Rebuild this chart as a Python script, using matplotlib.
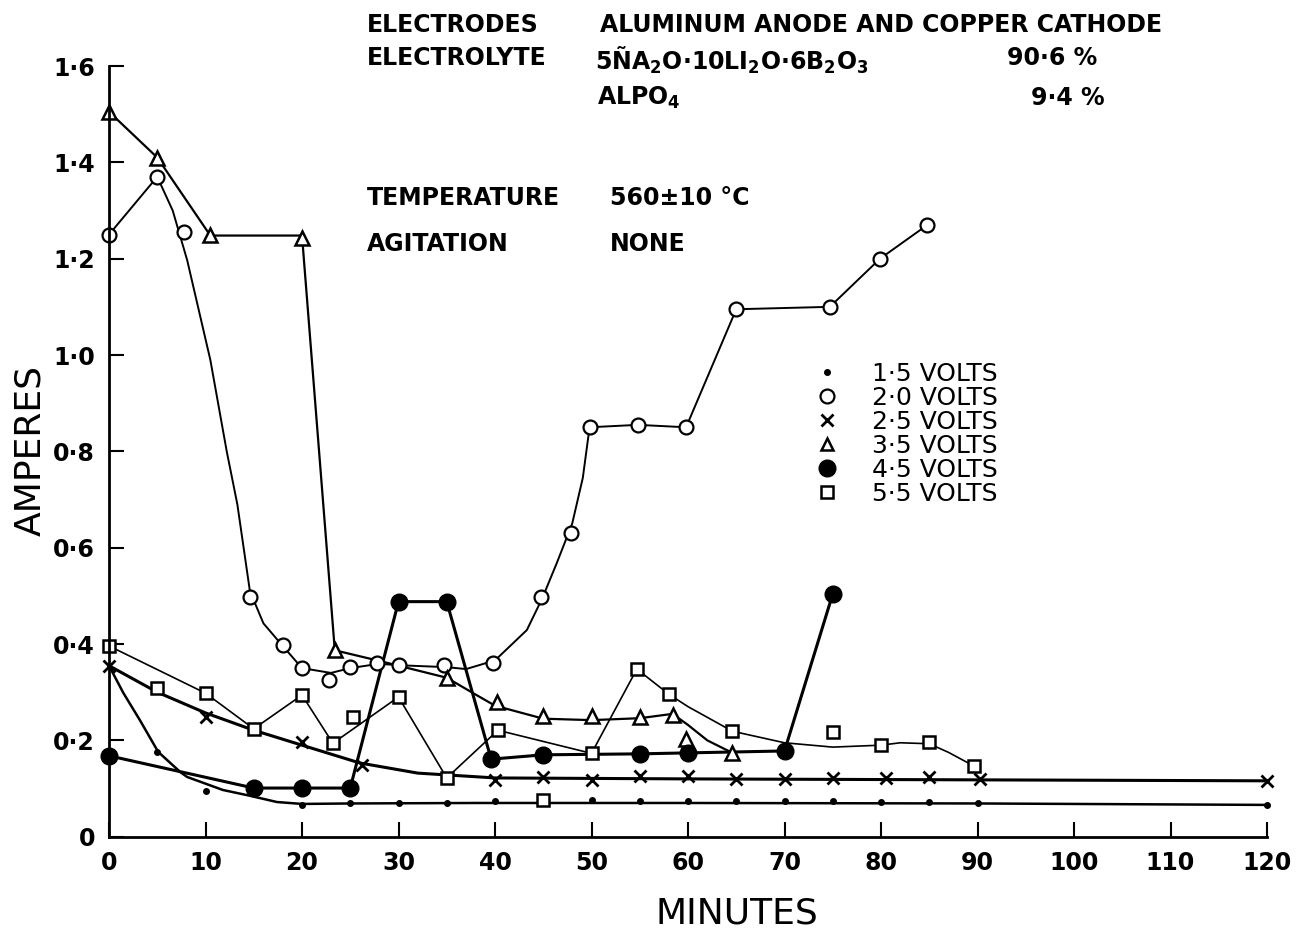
import matplotlib
matplotlib.use("Agg")
import matplotlib.pyplot as plt
from matplotlib.lines import Line2D

# ---- data (minutes, amperes) ----
# 1.5 volts
v15_t = [5, 10, 20, 25, 30, 35, 40, 45, 50, 55, 60, 65, 70, 75, 80, 85, 90, 120]
v15_a = [0.176, 0.095, 0.066, 0.070, 0.070, 0.070, 0.074, 0.074, 0.076, 0.075,
         0.075, 0.075, 0.075, 0.074, 0.073, 0.073, 0.071, 0.066]
c15_t = [0, 1.5, 3.2, 5.1, 7.4, 8.1, 11.8, 14.6, 17.4, 20, 25, 38, 60, 90, 120]
c15_a = [0.355, 0.298, 0.242, 0.176, 0.134, 0.124, 0.097, 0.085, 0.072, 0.068,
         0.069, 0.070, 0.070, 0.069, 0.066]

# 2.0 volts
v20_t = [0, 5, 7.8, 14.6, 18, 20, 22.8, 25, 27.8, 30, 34.7, 39.8, 44.8, 47.9,
         49.8, 54.8, 59.8, 65, 74.7, 79.9, 84.8]
v20_a = [1.25, 1.37, 1.255, 0.497, 0.398, 0.35, 0.325, 0.352, 0.36, 0.356,
         0.356, 0.36, 0.497, 0.63, 0.85, 0.855, 0.85, 1.095, 1.10, 1.20, 1.27]
c20_t = [0, 5, 6.6, 8.1, 10.5, 12.2, 13.3, 14.6, 16, 18, 20, 23, 25, 28, 30, 35,
         37, 40, 43.3, 44.9, 46.4, 48, 49.1, 49.8, 54.8, 59.8, 65, 74.7, 79.9, 84.8]
c20_a = [1.25, 1.37, 1.30, 1.197, 0.99, 0.80, 0.69, 0.51, 0.443, 0.396, 0.35,
         0.34, 0.35, 0.359, 0.356, 0.352, 0.348, 0.366, 0.429, 0.495, 0.568,
         0.65, 0.745, 0.85, 0.855, 0.85, 1.095, 1.10, 1.20, 1.27]

# 2.5 volts
v25_t = [0, 10, 15, 20, 26.2, 40, 45, 50, 55, 60, 65, 70, 75, 80.5, 85, 90.3, 120]
v25_a = [0.355, 0.249, 0.223, 0.196, 0.149, 0.118, 0.124, 0.118, 0.126, 0.126,
         0.12, 0.12, 0.122, 0.122, 0.124, 0.12, 0.116]
c25_t = [0, 5, 10, 15, 20, 26, 32, 40, 60, 90, 120]
c25_a = [0.355, 0.30, 0.257, 0.221, 0.19, 0.153, 0.132, 0.122, 0.12, 0.118, 0.116]

# 3.5 volts
v35_t = [0, 5, 10.5, 20, 23.4, 35, 40.2, 45, 50, 55, 58.4, 59.8, 64.6]
v35_a = [1.505, 1.41, 1.25, 1.243, 0.387, 0.33, 0.28, 0.25, 0.25, 0.249, 0.252,
         0.203, 0.174]
c35_t = [0, 5, 10.5, 20, 23.4, 28, 35, 38, 40, 45, 50, 55, 58.4, 60, 62, 64.6]
c35_a = [1.505, 1.41, 1.248, 1.248, 0.387, 0.365, 0.33, 0.295, 0.272, 0.245,
         0.242, 0.246, 0.255, 0.232, 0.20, 0.174]

# 4.5 volts
v45_t = [0, 15, 20, 25, 30, 35, 39.6, 45, 55, 60, 70, 75]
v45_a = [0.168, 0.101, 0.101, 0.101, 0.488, 0.488, 0.161, 0.17, 0.172, 0.174,
         0.178, 0.504]

# 5.5 volts
v55_t = [0, 5, 10, 15, 20, 23.2, 25.3, 30, 35, 40.3, 45, 50, 54.7, 58, 64.6, 75,
         80, 85, 89.6]
v55_a = [0.396, 0.309, 0.298, 0.224, 0.294, 0.194, 0.249, 0.29, 0.122, 0.221,
         0.076, 0.173, 0.348, 0.296, 0.219, 0.217, 0.19, 0.197, 0.147]
c55_t = [0, 10, 15, 20, 23.2, 30, 35, 40.3, 50, 54.7, 58, 60, 64.6, 70, 75, 80,
         82, 85, 87, 89.6]
c55_a = [0.396, 0.298, 0.224, 0.294, 0.194, 0.29, 0.122, 0.221, 0.173, 0.348,
         0.296, 0.27, 0.219, 0.195, 0.186, 0.19, 0.195, 0.193, 0.175, 0.147]

x_ticks = list(range(0, 121, 10))
y_ticks = [0, 0.2, 0.4, 0.6, 0.8, 1.0, 1.2, 1.4, 1.6]
y_labels = ["0", "0\u00b72", "0\u00b74", "0\u00b76", "0\u00b78", "1\u00b70",
            "1\u00b72", "1\u00b74", "1\u00b76"]

legend_labels = ["1\u00b75 VOLTS", "2\u00b70 VOLTS", "2\u00b75 VOLTS",
                 "3\u00b75 VOLTS", "4\u00b75 VOLTS", "5\u00b75 VOLTS"]

plt.rcParams['font.family'] = ['DejaVu Sans']
W, H = 1300, 933
fig = plt.figure(figsize=(13, 9.33), dpi=100)
ax = fig.add_axes([109 / W, 1 - 836.7 / H, 1158 / W, (836.7 - 66) / H])

k = 'black'
# curves
ax.plot(c15_t, c15_a, '-', color=k, lw=1.8, clip_on=False)
ax.plot(c20_t, c20_a, '-', color=k, lw=1.4, clip_on=False)
ax.plot(c25_t, c25_a, '-', color=k, lw=2.2, clip_on=False)
ax.plot(c35_t, c35_a, '-', color=k, lw=1.6, clip_on=False)
ax.plot(v45_t, v45_a, '-', color=k, lw=2.2, clip_on=False)
ax.plot(c55_t, c55_a, '-', color=k, lw=1.2, clip_on=False)

# points
ax.plot(v15_t, v15_a, 'o', color=k, ms=4, ls='none', clip_on=False)
ax.plot(v20_t, v20_a, 'o', mfc='white', mec=k, mew=1.6, ms=10, ls='none', clip_on=False)
ax.plot(v25_t, v25_a, 'x', color=k, mew=2, ms=9, ls='none', clip_on=False)
ax.plot(v35_t, v35_a, '^', mfc='white', mec=k, mew=1.8, ms=10, ls='none', clip_on=False)
ax.plot(v45_t, v45_a, 'o', color=k, ms=12, ls='none', clip_on=False)
ax.plot(v55_t, v55_a, 's', mfc='white', mec=k, mew=1.8, ms=9, ls='none', clip_on=False)

ax.set_xlim(0, 120)
ax.set_ylim(0, 1.6)
for s in ['top', 'right']:
    ax.spines[s].set_visible(False)
for s in ['left', 'bottom']:
    ax.spines[s].set_linewidth(2)
ax.set_xticks(x_ticks)
ax.set_yticks(y_ticks)
ax.set_yticklabels(y_labels)
ax.tick_params(direction='in', length=11, width=1.5, labelsize=17, pad=10)
for lab in ax.get_xticklabels() + ax.get_yticklabels():
    lab.set_fontweight('bold')

fig.text(30 / W, 1 - 450 / H, "AMPERES", rotation=90, fontsize=26,
         ha='center', va='center')
fig.text(737 / W, 1 - 914 / H, "MINUTES", fontsize=26, ha='center', va='center')

# legend
handles = [
    Line2D([], [], marker='o', color=k, ms=4, ls='none'),
    Line2D([], [], marker='o', mfc='white', mec=k, mew=1.6, ms=10, ls='none'),
    Line2D([], [], marker='x', color=k, mew=2, ms=9, ls='none'),
    Line2D([], [], marker='^', mfc='white', mec=k, mew=1.8, ms=9, ls='none'),
    Line2D([], [], marker='o', color=k, ms=12, ls='none'),
    Line2D([], [], marker='s', mfc='white', mec=k, mew=1.8, ms=8, ls='none'),
]
fig.legend(handles, legend_labels, loc='upper left',
           bbox_to_anchor=(812 / W, 1 - 362 / H), frameon=False, fontsize=18,
           labelspacing=0.0, handlelength=1.2, handletextpad=1.2,
           borderpad=0, borderaxespad=0)

# header notes
tk = dict(fontsize=17, fontweight='bold', va='center', ha='left')
fig.text(367 / W, 1 - 25 / H, "ELECTRODES", **tk)
fig.text(600 / W, 1 - 25 / H, "ALUMINUM ANODE AND COPPER CATHODE", **tk)
fig.text(367 / W, 1 - 58 / H, "ELECTROLYTE", **tk)
fig.text(595 / W, 1 - 60 / H,
         "5\u00d1A$_\\mathbf{2}$O\u00b710LI$_\\mathbf{2}$O\u00b76B$_\\mathbf{2}$O$_\\mathbf{3}$",
         **tk)
fig.text(1007 / W, 1 - 58 / H, "90\u00b76 %", **tk)
fig.text(597 / W, 1 - 98 / H, "ALPO$_\\mathbf{4}$", **tk)
fig.text(1031 / W, 1 - 98 / H, "9\u00b74 %", **tk)
fig.text(367 / W, 1 - 198 / H, "TEMPERATURE", **tk)
fig.text(610 / W, 1 - 198 / H, "560\u00b110 \u00b0C", **tk)
fig.text(367 / W, 1 - 244 / H, "AGITATION", **tk)
fig.text(610 / W, 1 - 244 / H, "NONE", **tk)

fig.savefig("out.png", dpi=100, facecolor='white')
